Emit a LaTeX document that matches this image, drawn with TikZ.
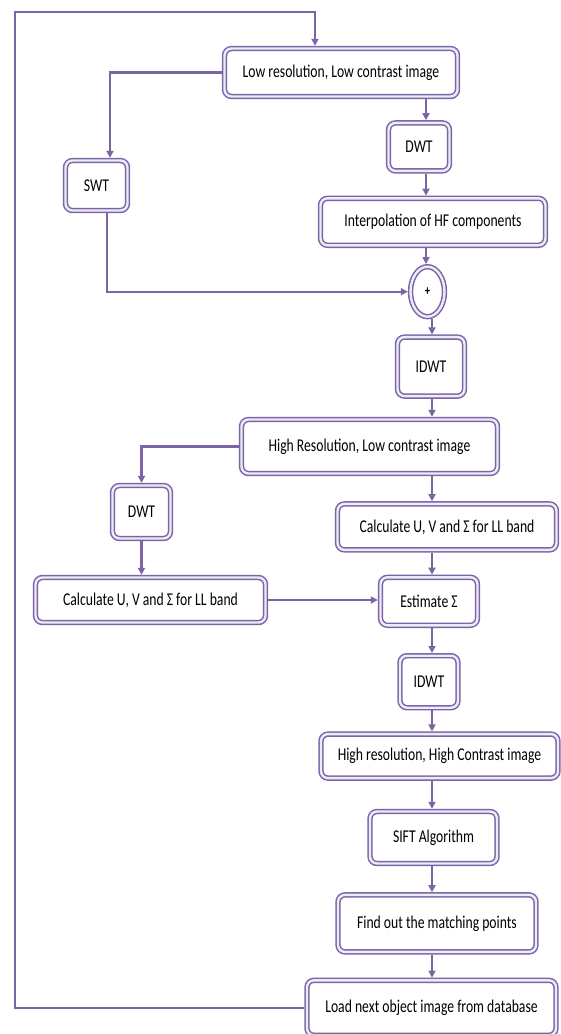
\documentclass[tikz,border=0pt]{standalone}
\usepackage{fontspec}
\setmainfont{Carlito}[FakeStretch=0.76]
\usepackage{tikz}
\usetikzlibrary{arrows.meta,positioning,shapes.geometric}
\definecolor{linec}{RGB}{122,102,165}
\definecolor{gapc}{RGB}{238,234,248}
\newcommand\boxfont{\fontsize{18}{20}\selectfont}

\begin{document}
\begin{tikzpicture}[x=1pt,y=-1pt,
    box/.style={draw=linec,double=gapc,double distance=2.4pt,line width=1.5pt,
      rounded corners=7pt,fill=white,outer sep=2.7pt,inner sep=2pt,
      align=center,font=\boxfont},
    sumnode/.style={ellipse,draw=linec,double=gapc,double distance=2.4pt,
      line width=1.5pt,fill=white,outer sep=2.7pt,inner sep=0pt,
      font=\bfseries\fontsize{14}{14}\selectfont},
    flow/.style={-{Triangle[length=7pt,width=7pt]},line width=2.4pt,draw=linec}
  ]
    \useasboundingbox[fill=white] (0,0) rectangle (561,1034);
    \node[box,minimum width=233pt,minimum height=48pt] (lowres) at (341,72.5)
      {Low resolution, Low contrast image};
    \node[box,minimum width=61pt,minimum height=48pt,below=21pt of lowres,xshift=78pt] (dwta) {DWT};
    \node[box,minimum width=62pt,minimum height=50pt] (swt) at (96.5,185.5) {SWT};
    \node[box,minimum width=225pt,minimum height=47pt,below=22pt of dwta,xshift=14pt] (interp)
      {Interpolation of HF components};
    \node[sumnode,minimum width=34pt,minimum height=50pt,below=16pt of interp,xshift=-5.5pt] (sum) {+};
    \node[box,minimum width=67pt,minimum height=59pt,below=15pt of sum,xshift=3.5pt] (idwta) {IDWT};
    \node[box,minimum width=256pt,minimum height=54pt,below=18pt of idwta,xshift=-61.5pt] (hr)
      {High Resolution, Low contrast image};
    \node[box,minimum width=219pt,minimum height=46pt,below=25pt of hr,xshift=77.5pt] (calca)
      {Calculate U, V and Σ for LL band};
    \node[box,minimum width=58pt,minimum height=53pt] (dwtb) at (141.5,512) {DWT};
    \node[box,minimum width=230pt,minimum height=45pt] (calcb) at (150.5,600)
      {Calculate U, V and Σ for LL band};
    \node[box,minimum width=97pt,minimum height=48pt,below=22pt of calca,xshift=-18pt] (est) {Estimate Σ};
    \node[box,minimum width=58pt,minimum height=52pt,below=25pt of est] (idwtb) {IDWT};
    \node[box,minimum width=237pt,minimum height=44pt,below=21pt of idwtb,xshift=10.5pt] (hrhc)
      {High resolution, High Contrast image};
    \node[box,minimum width=127pt,minimum height=52pt,below=28pt of hrhc,xshift=-6pt] (sift) {SIFT Algorithm};
    \node[box,minimum width=198pt,minimum height=57pt,below=26pt of sift,xshift=3.5pt] (find)
      {Find out the matching points};
    \node[box,minimum width=249pt,minimum height=55pt,below=23pt of find,xshift=-5.5pt] (load)
      {Load next object image from database};
    \coordinate (cola) at (426,0);
    \coordinate (colb) at (432,0);
    \coordinate (lt) at (15,12);
    \draw[flow] (load.west) -| (lt) -| ([xshift=-26pt]lowres.north);
    \draw[flow] (lowres.west) -| ([xshift=13.5pt]swt.north);
    \draw[flow] ([xshift=10.5pt]swt.south) |- (sum.west);
    \draw[flow] (lowres.south -| cola) -- (dwta.north -| cola);
    \draw[flow] (dwta.south -| cola) -- (interp.north -| cola);
    \draw[flow] (interp.south -| cola) -- (sum.north -| cola);
    \draw[flow] (sum.south -| colb) -- (idwta.north -| colb);
    \draw[flow] (idwta.south -| colb) -- (hr.north -| colb);
    \draw[flow] (hr.south -| colb) -- (calca.north -| colb);
    \draw[flow] (hr.west) -| (dwtb.north);
    \draw[flow] (dwtb.south) -- (dwtb.south |- calcb.north);
    \draw[flow] (calcb.east) -- (calcb.east -| est.west);
    \draw[flow] (calca.south -| colb) -- (est.north -| colb);
    \draw[flow] (est.south -| colb) -- (idwtb.north -| colb);
    \draw[flow] (idwtb.south -| colb) -- (hrhc.north -| colb);
    \draw[flow] (hrhc.south -| colb) -- (sift.north -| colb);
    \draw[flow] (sift.south -| colb) -- (find.north -| colb);
    \draw[flow] (find.south -| colb) -- (load.north -| colb);
  \end{tikzpicture}
\end{document}
